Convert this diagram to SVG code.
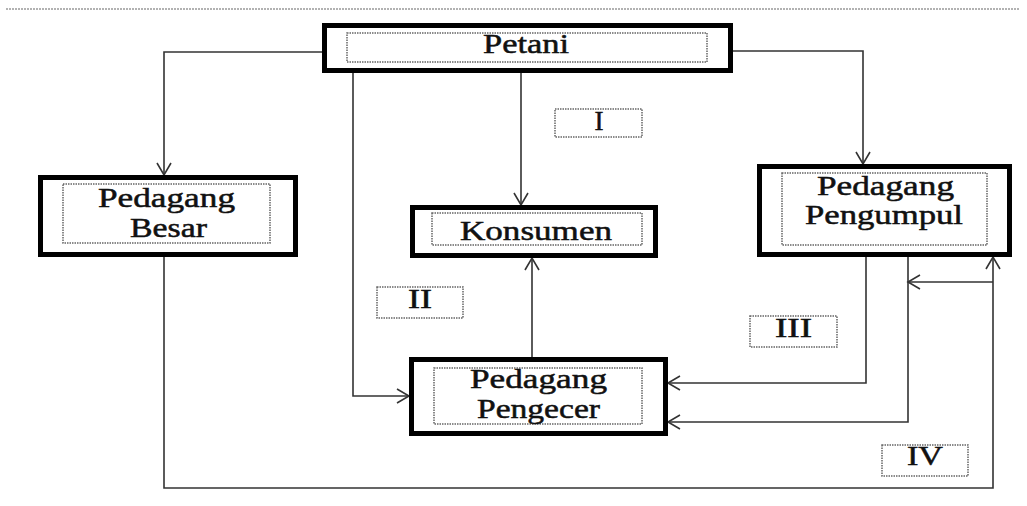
<svg xmlns="http://www.w3.org/2000/svg" width="1027" height="506" viewBox="0 0 1027 506">
<style>
.box{fill:#fff;stroke:#000;stroke-width:5}
.inner{fill:none;stroke:#666;stroke-width:1.5;stroke-dasharray:1.5 1}
.lbl{fill:#fff;stroke:#666;stroke-width:1.5;stroke-dasharray:1.5 1}
.t{font-family:"Liberation Serif","Times New Roman",serif;font-size:27px;fill:#111;stroke:#111;stroke-width:0.5}
.c{fill:none;stroke:#333;stroke-width:1.6}
</style>
<defs>
<marker id="arr" markerUnits="userSpaceOnUse" markerWidth="16" markerHeight="18" refX="0" refY="0" viewBox="-14 -9 16 18" orient="auto" overflow="visible">
<path d="M-12,-7 L0,0 L-12,7" fill="none" stroke="#333" stroke-width="1.6"/>
</marker>
</defs>
<rect width="1027" height="506" fill="#fff"/>
<line x1="6" y1="9" x2="1020" y2="9" stroke="#999" stroke-width="1.5" stroke-dasharray="2 1"/>
<g id="connectors">
<path class="c" d="M322,52 H164 V175" marker-end="url(#arr)"/>
<path class="c" d="M733,51 H863 V164" marker-end="url(#arr)"/>
<path class="c" d="M353,73 V396 H409" marker-end="url(#arr)"/>
<path class="c" d="M521,73 V205" marker-end="url(#arr)"/>
<path class="c" d="M532,357 V258" marker-end="url(#arr)"/>
<path class="c" d="M866,257 V383 H668" marker-end="url(#arr)"/>
<path class="c" d="M908,257 V422 H668" marker-end="url(#arr)"/>
<path class="c" d="M164,257 V488 H993 V257" marker-end="url(#arr)"/>
<path class="c" d="M993,282 H908" marker-end="url(#arr)"/>
</g>
<g id="petani">
<rect class="box" x="324.5" y="25.5" width="406" height="45"/>
<rect class="inner" x="347" y="33" width="360" height="29"/>
<text class="t" x="483" y="53" textLength="86" lengthAdjust="spacingAndGlyphs">Petani</text>
</g>
<g id="pedagang-besar">
<rect class="box" x="40.5" y="177.5" width="255" height="77"/>
<rect class="inner" x="63" y="184" width="207" height="59"/>
<text class="t" x="98" y="207" textLength="137" lengthAdjust="spacingAndGlyphs">Pedagang</text>
<text class="t" x="130" y="237" textLength="77" lengthAdjust="spacingAndGlyphs">Besar</text>
</g>
<g id="konsumen">
<rect class="box" x="412.5" y="207.5" width="243" height="48"/>
<rect class="inner" x="432" y="213" width="210" height="32"/>
<text class="t" x="460" y="240" textLength="152" lengthAdjust="spacingAndGlyphs">Konsumen</text>
</g>
<g id="pedagang-pengumpul">
<rect class="box" x="759.5" y="166.5" width="250" height="88"/>
<rect class="inner" x="782" y="173" width="205" height="72"/>
<text class="t" x="817" y="195" textLength="137" lengthAdjust="spacingAndGlyphs">Pedagang</text>
<text class="t" x="805" y="224" textLength="158" lengthAdjust="spacingAndGlyphs">Pengumpul</text>
</g>
<g id="pedagang-pengecer">
<rect class="box" x="411.5" y="359.5" width="254" height="74"/>
<rect class="inner" x="434" y="368" width="208" height="56"/>
<text class="t" x="470" y="388" textLength="137" lengthAdjust="spacingAndGlyphs">Pedagang</text>
<text class="t" x="477" y="418" textLength="123" lengthAdjust="spacingAndGlyphs">Pengecer</text>
</g>
<g id="label-I">
<rect class="lbl" x="555" y="109" width="87" height="28"/>
<text class="t" x="599" y="130" text-anchor="middle">I</text>
</g>
<g id="label-II">
<rect class="lbl" x="377" y="287" width="86" height="31"/>
<text class="t" x="408" y="308" textLength="24" lengthAdjust="spacingAndGlyphs">II</text>
</g>
<g id="label-III">
<rect class="lbl" x="750" y="316" width="87" height="31"/>
<text class="t" x="775" y="337" textLength="37" lengthAdjust="spacingAndGlyphs">III</text>
</g>
<g id="label-IV">
<rect class="lbl" x="882" y="445" width="86" height="31"/>
<text class="t" x="907" y="465" textLength="36" lengthAdjust="spacingAndGlyphs">IV</text>
</g>
</svg>
